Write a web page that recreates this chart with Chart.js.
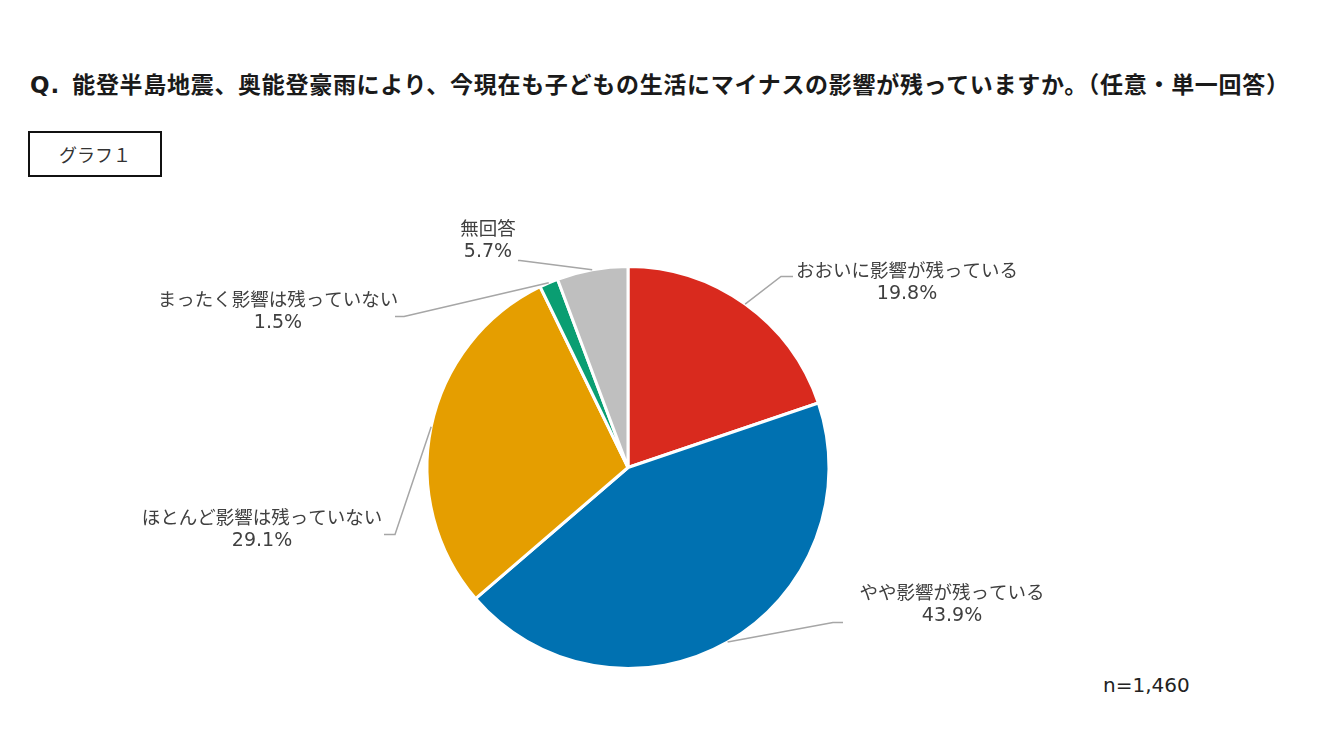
<!DOCTYPE html>
<html lang="ja">
<head>
<meta charset="utf-8">
<script src="https://cdn.jsdelivr.net/npm/chart.js@4"></script>
<style>
  html, body { margin: 0; padding: 0; background: #fff; }
  body { width: 1328px; height: 747px; position: relative; overflow: hidden;
         font-family: "Noto Sans CJK JP", "Noto Sans", sans-serif; }
  #title { position: absolute; left: 30px; top: 66px; font-size: 23px; font-weight: bold;
           color: #1a1a1a; white-space: nowrap; letter-spacing: 0.7px; }
  #title .q { font-family: "DejaVu Sans", sans-serif; letter-spacing: 1px; margin-right: 6px; }
  #tag { position: absolute; left: 28px; top: 131px; width: 130px; height: 42px;
         border: 2px solid #111; font-size: 18px; color: #333; text-align: center; line-height: 42px; }
  #note { position: absolute; left: 1103px; top: 673px; font-size: 20px; color: #222;
          font-family: "DejaVu Sans", sans-serif; }
  #wrap { position: absolute; left: 0; top: 0; width: 1328px; height: 747px; }
</style>
</head>
<body>
<div id="title"><span class="q">Q.</span>&nbsp;能登半島地震、奥能登豪雨により、今現在も子どもの生活にマイナスの影響が残っていますか。（任意・単一回答）</div>
<div id="tag">グラフ１</div>
<div id="note">n=1,460</div>
<div id="wrap"><canvas id="myChart"></canvas></div>
<script>
var labels = ['おおいに影響が残っている', 'やや影響が残っている', 'ほとんど影響は残っていない', 'まったく影響は残っていない', '無回答'];
var values = [19.8, 43.9, 29.1, 1.5, 5.7];
var colors = ['#D92A1E', '#0071B1', '#E59E00', '#0A9E72', '#BFBFBF'];

// label placement relative to pie centre: [labelX, labelY, elbowX, elbowY, endX, endY]
var labelLayout = [
  [279, -198, 153, -191, 165, -191],
  [324, 124, 205, 155, 215, 155],
  [-366, 49, -233, 67, -244, 67],
  [-350, -169, -224, -151, -233, -151],
  [-140, -240, -108, -207, -110, -207]
];

var calloutPlugin = {
  id: 'callouts',
  afterDatasetsDraw: function(chart) {
    var ctx = chart.ctx;
    var meta = chart.getDatasetMeta(0);
    ctx.save();
    meta.data.forEach(function(arc, i) {
      var p = arc.getProps(['x', 'y', 'startAngle', 'endAngle', 'outerRadius'], true);
      var mid = (p.startAngle + p.endAngle) / 2;
      var sx = p.x + Math.cos(mid) * p.outerRadius;
      var sy = p.y + Math.sin(mid) * p.outerRadius;
      var L = labelLayout[i];
      ctx.strokeStyle = '#A6A6A6';
      ctx.lineWidth = 1.5;
      ctx.beginPath();
      ctx.moveTo(sx, sy);
      ctx.lineTo(p.x + L[2], p.y + L[3]);
      ctx.lineTo(p.x + L[4], p.y + L[5]);
      ctx.stroke();
      ctx.fillStyle = '#404040';
      ctx.textAlign = 'center';
      ctx.textBaseline = 'middle';
      ctx.font = '18.5px "Noto Sans CJK JP", sans-serif';
      ctx.fillText(labels[i], p.x + L[0], p.y + L[1]);
      ctx.font = '19px "DejaVu Sans", sans-serif';
      ctx.fillText(values[i].toFixed(1) + '%', p.x + L[0], p.y + L[1] + 25);
    });
    ctx.restore();
  }
};

var ctx = document.getElementById('myChart').getContext('2d');
var myChart = new Chart(ctx, {
  type: 'pie',
  data: {
    labels: labels,
    datasets: [{
      data: values,
      backgroundColor: colors,
      borderColor: '#ffffff',
      borderWidth: 3,
      hoverOffset: 0,
      radius: 201
    }]
  },
  options: {
    responsive: true,
    maintainAspectRatio: false,
    animation: false,
    layout: { padding: { left: 428, right: 500, top: 267, bottom: 79 } },
    plugins: {
      legend: { display: false },
      tooltip: { enabled: false }
    }
  },
  plugins: [calloutPlugin]
});
</script>
</body>
</html>
